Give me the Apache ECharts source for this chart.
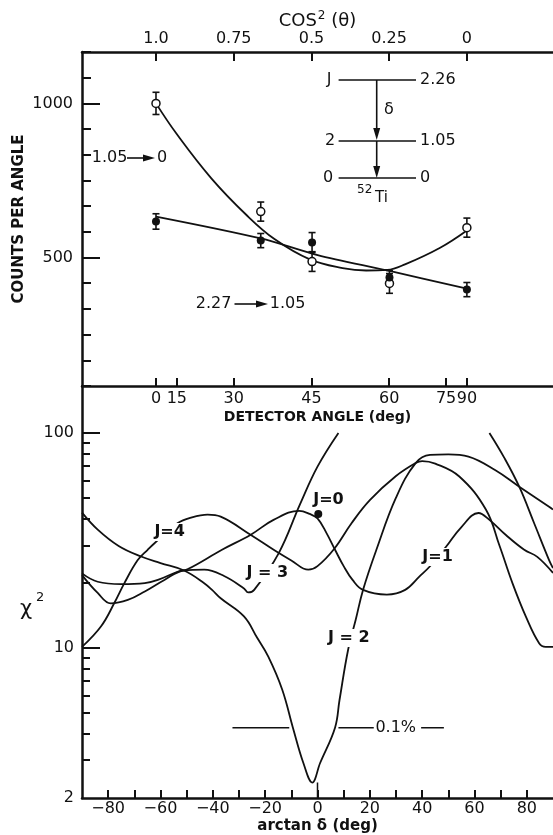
<!DOCTYPE html>
<html>
<head>
<meta charset="utf-8">
<script src="https://cdn.jsdelivr.net/npm/echarts@6/dist/echarts.min.js"></script>
<style>
  html, body { margin: 0; padding: 0; background: #fff; }
  #chart { width: 553px; height: 835px; }
</style>
</head>
<body>
<div id="chart"></div>
<script>
// ---- upper panel: angular distributions vs cos^2(theta) ----
var cos2Ticks = [1.0, 0.75, 0.5, 0.25, 0];
var detectorAngles = [0, 15, 30, 45, 60, 75, 90];
var countTicks = [500, 1000];

var pointCos2 = [1.0, 0.663, 0.498, 0.249, 0];
var groundCounts = [1000, 649, 487, 416, 597];   // 1.05 -> 0 (open)
var groundErr = [36, 31, 32, 32, 31];
var upperCounts = [617, 555, 549, 435, 396];     // 2.27 -> 1.05 (filled)
var upperErr = [25, 23, 32, 23, 23];

var groundFitCos2 = [1.0, 0.935, 0.822, 0.709, 0.619, 0.505, 0.40, 0.324, 0.256, 0.199, 0.086, 0];
var groundFitCounts = [1000, 903, 757, 638, 560, 494, 466, 458, 460, 478, 532, 588];
var upperFitCos2 = [1.0, 0.663, 0.48, 0.256, 0];
var upperFitCounts = [633, 562, 508, 458, 399];

// ---- lower panel: chi^2 vs arctan(delta) ----
var arctanTicks = [-80, -70, -60, -50, -40, -30, -20, -10, 0, 10, 20, 30, 40, 50, 60, 70, 80];
var arctanLabels = [-80, -60, -40, -20, 0, 20, 40, 60, 80];
var chiMinorTicks = [3, 4, 5, 6, 7, 8, 9, 20, 30, 40, 50, 60, 70, 80, 90];
var chiMajorTicks = [10, 100];
var chiLabels = [2, 10, 100];

var j1Deg = [-90, -84, -75, -66, -61, -53.5, -49.7, -36.5, -25.5, -16.8, -7, -3, 0, 3.5, 6.7, 10, 13.4, 17.4, 26.5, 33.5, 39, 42.9, 49.2, 55, 61.5, 65.7, 72, 79, 84, 90];
var j1Chi = [22.2, 20.3, 19.8, 20, 20.7, 22.6, 23.2, 28.6, 33.6, 39.4, 43.4, 42, 40, 34.1, 28.6, 24, 20.7, 18.6, 17.7, 18.6, 21.5, 23.9, 29.6, 36.5, 42.4, 39.4, 33.5, 28.6, 26.5, 22.3];

var j2Deg = [-90, -84, -76, -67.4, -60, -51, -43.3, -40.3, -37, -28.1, -23, -18.8, -13.5, -9.4, -5.4, -2, 1, 6.7, 8.4, 11.7, 14.6, 17.4, 22.5, 30, 37.5, 43, 50, 57.7, 68, 77.1, 88.5, 90];
var j2Chi = [42.6, 35.5, 29.8, 26.6, 24.8, 22.9, 20, 18.6, 17, 14, 11.1, 9.1, 6.4, 4.25, 2.91, 2.36, 2.91, 4.25, 5.7, 9.8, 13.5, 18.6, 28.6, 50, 72.4, 79, 79.5, 77.6, 67, 56.2, 45.4, 44];

var j3Deg = [-90, -84, -79, -72.5, -66, -58.5, -51, -43.3, -35.7, -28.1, -26.5, -24.2, -14.8, -6.7, 0, 8];
var j3Chi = [21.8, 18, 16.1, 16.7, 18.3, 20.7, 22.9, 23.1, 21.6, 18.9, 18.1, 18.6, 27.6, 46.5, 69.7, 100];
var j3WrapDeg = [65.7, 71.4, 77.1, 82.8, 88.5, 90];
var j3WrapChi = [100, 76.6, 56.2, 38, 25.6, 23.5];

var j4Deg = [-90, -82.7, -77.6, -73.8, -68.7, -64.9, -62.4, -53.5, -48, -42, -37, -25.6, -16, -10, -3.5, 0, 6.5, 13, 20, 30, 37.5, 40, 45, 54.2, 64.4, 69.5, 74.5, 79.6, 84.7, 87.2, 90];
var j4Chi = [10.1, 12.6, 16.2, 20, 25.6, 28.6, 30.6, 38, 40.5, 41.7, 40.8, 33.6, 28.2, 25.5, 23.1, 24, 29, 38, 48.7, 63, 72.4, 74, 72, 62.7, 43.9, 30, 20, 14, 10.5, 10.1, 10.1];

var j0Point = [0.3, 42];
var limitChi = 4.25;   // 0.1% level
var limitSegments = [[-32.5, -10.8], [8, 21.5], [39.6, 48.3]];
var limitTextDeg = 29.9;

var jLabelText = ['J=4', 'J=0', 'J = 3', 'J = 2', 'J=1'];
var jLabelDeg = [-56.5, 4.2, -19.2, 12.0, 45.9];
var jLabelChi = [34.6, 48.8, 22.3, 11.1, 26.5];

var BLACK = '#111';
var FONT = 'DejaVu Sans';

function pairs(xs, ys) { return xs.map(function (x, i) { return [x, ys[i]]; }); }
function cos2(deg) { var c = Math.cos(deg * Math.PI / 180); return c * c; }
var angleCos2 = detectorAngles.map(cos2);

var axisLine = { show: true, onZero: false, lineStyle: { color: BLACK, width: 2.5 } };
var tickStyle = { color: BLACK, width: 2 };
var curveStyle = { color: BLACK, width: 1.8 };

function errorBars(xs, ys, es) {
  return xs.map(function (x, i) { return [x, ys[i] - es[i], ys[i] + es[i]]; });
}
function renderErr(params, api) {
  var top = api.coord([api.value(0), api.value(2)]);
  var bot = api.coord([api.value(0), api.value(1)]);
  var w = 3.5, s = { stroke: BLACK, lineWidth: 1.6 };
  return { type: 'group', children: [
    { type: 'line', shape: { x1: top[0], y1: top[1], x2: bot[0], y2: bot[1] }, style: s },
    { type: 'line', shape: { x1: top[0] - w, y1: top[1], x2: top[0] + w, y2: top[1] }, style: s },
    { type: 'line', shape: { x1: bot[0] - w, y1: bot[1], x2: bot[0] + w, y2: bot[1] }, style: s }
  ] };
}

function curve(name, xs, ys) {
  return {
    name: name, type: 'line', xAxisIndex: 2, yAxisIndex: 2,
    data: pairs(xs, ys), smooth: 0.4,
    showSymbol: false, lineStyle: curveStyle, z: 2
  };
}

var limitData = [];
limitSegments.forEach(function (seg, i) {
  if (i > 0) limitData.push([seg[0] - 1, '-']);
  limitData.push([seg[0], limitChi], [seg[1], limitChi]);
});

// small text + arrow helpers for annotations
function txt(x, y, s, opts) {
  opts = opts || {};
  return { type: 'text', x: x, y: y, z: 10, style: {
    text: s, fill: BLACK, font: (opts.weight || 'normal') + ' ' + (opts.size || 16) + 'px "' + FONT + '"',
    align: opts.align || 'left', verticalAlign: 'middle' } };
}
function hline(x1, x2, y) {
  return { type: 'line', z: 10, shape: { x1: x1, y1: y, x2: x2, y2: y }, style: { stroke: BLACK, lineWidth: 1.6 } };
}
function vline(x, y1, y2) {
  return { type: 'line', z: 10, shape: { x1: x, y1: y1, x2: x, y2: y2 }, style: { stroke: BLACK, lineWidth: 1.6 } };
}
function headRight(x, y) {
  return { type: 'polygon', z: 10, shape: { points: [[x - 12, y - 3.5], [x - 12, y + 3.5], [x, y]] }, style: { fill: BLACK } };
}
function headDown(x, y) {
  return { type: 'polygon', z: 10, shape: { points: [[x - 3.5, y - 12], [x + 3.5, y - 12], [x, y]] }, style: { fill: BLACK } };
}

var chart = echarts.init(document.getElementById('chart'));

chart.setOption({
  animation: false,
  backgroundColor: '#fff',
  textStyle: { fontFamily: FONT, color: BLACK },
  grid: [
    { left: 82, top: 52, width: 472, height: 334 },
    { left: 82, top: 386, width: 472, height: 412 }
  ],
  xAxis: [
    {
      gridIndex: 0, type: 'value', position: 'top', min: -0.277, max: 1.238, inverse: true,
      axisLine: axisLine, splitLine: { show: false },
      axisTick: { show: true, inside: true, length: 9, customValues: cos2Ticks, lineStyle: tickStyle },
      axisLabel: { customValues: cos2Ticks, color: BLACK, fontSize: 16, margin: 5,
        formatter: function (v) { return v === 1 ? '1.0' : String(v); } },
      name: '{t|COS}{s|2}{t| (θ)}', nameLocation: 'middle', nameGap: 22,
      nameTextStyle: { rich: {
        t: { fontSize: 18, color: BLACK, fontFamily: FONT, verticalAlign: 'bottom' },
        s: { fontSize: 12, color: BLACK, fontFamily: FONT, verticalAlign: 'bottom', padding: [0, 0, 8, 1] } } }
    },
    {
      gridIndex: 0, type: 'value', position: 'bottom', min: -0.277, max: 1.238, inverse: true,
      axisLine: axisLine, splitLine: { show: false },
      axisTick: { show: true, inside: true, length: 8, customValues: angleCos2, lineStyle: tickStyle },
      axisLabel: { customValues: angleCos2, color: BLACK, fontSize: 16, margin: 5,
        formatter: function (v) {
          for (var i = 0; i < angleCos2.length; i++) if (Math.abs(angleCos2[i] - v) < 1e-6) return String(detectorAngles[i]);
          return '';
        } },
      name: 'DETECTOR ANGLE (deg)', nameLocation: 'middle', nameGap: 24,
      nameTextStyle: { fontSize: 14, fontWeight: 'bold', color: BLACK }
    },
    {
      gridIndex: 1, type: 'value', position: 'bottom', min: -90, max: 90,
      axisLine: axisLine, splitLine: { show: false },
      axisTick: { show: true, inside: true, length: 8, customValues: arctanTicks, lineStyle: tickStyle },
      axisLabel: { customValues: arctanLabels, color: BLACK, fontSize: 16, margin: 3,
        formatter: function (v) { return v < 0 ? '\u2212' + (-v) : String(v); } },
      name: 'arctan δ (deg)', nameLocation: 'middle', nameGap: 21,
      nameTextStyle: { fontSize: 15, fontWeight: 'bold', color: BLACK }
    }
  ],
  yAxis: [
    {
      gridIndex: 0, type: 'value', position: 'left', min: 1000 / 12, max: 14000 / 12, interval: 1000 / 12,
      axisLine: axisLine, splitLine: { show: false }, axisLabel: { show: false },
      axisTick: { show: true, inside: true, length: 9, lineStyle: tickStyle },
      name: 'COUNTS PER ANGLE', nameLocation: 'middle', nameGap: 55,
      nameTextStyle: { fontSize: 15, fontWeight: 'bold', color: BLACK }
    },
    {
      gridIndex: 0, type: 'value', position: 'left', min: 1000 / 12, max: 14000 / 12,
      axisLine: { show: false, onZero: false }, splitLine: { show: false },
      axisTick: { show: true, inside: true, length: 18, customValues: countTicks, lineStyle: tickStyle },
      axisLabel: { customValues: countTicks, color: BLACK, fontSize: 16, margin: 9,
        formatter: function (v) { return String(Math.round(v)); } }
    },
    {
      gridIndex: 1, type: 'log', logBase: 10, position: 'left', min: 2, max: 165.4,
      axisLine: axisLine, splitLine: { show: false }, minorTick: { show: false }, axisLabel: { show: false },
      axisTick: { show: true, inside: true, length: 8, customValues: chiMinorTicks, lineStyle: tickStyle }
    },
    {
      gridIndex: 1, type: 'log', logBase: 10, position: 'left', min: 2, max: 165.4,
      axisLine: { show: false, onZero: false }, splitLine: { show: false }, minorTick: { show: false },
      axisTick: { show: true, inside: true, length: 18, customValues: chiMajorTicks, lineStyle: tickStyle },
      axisLabel: { customValues: chiLabels, color: BLACK, fontSize: 16, margin: 8,
        formatter: function (v) { return String(Math.round(v)); } }
    }
  ],
  series: [
    // upper panel
    { name: '1.05->0 fit', type: 'line', xAxisIndex: 0, yAxisIndex: 0, data: pairs(groundFitCos2, groundFitCounts),
      smooth: 0.4, showSymbol: false, lineStyle: curveStyle, z: 2 },
    { name: '2.27->1.05 fit', type: 'line', xAxisIndex: 0, yAxisIndex: 0, data: pairs(upperFitCos2, upperFitCounts),
      smooth: 0.3, showSymbol: false, lineStyle: curveStyle, z: 2 },
    { type: 'custom', xAxisIndex: 0, yAxisIndex: 0, renderItem: renderErr, encode: { x: 0, y: [1, 2] },
      data: errorBars(pointCos2, groundCounts, groundErr), z: 3 },
    { type: 'custom', xAxisIndex: 0, yAxisIndex: 0, renderItem: renderErr, encode: { x: 0, y: [1, 2] },
      data: errorBars(pointCos2, upperCounts, upperErr), z: 3 },
    { name: '1.05->0', type: 'scatter', xAxisIndex: 0, yAxisIndex: 0, data: pairs(pointCos2, groundCounts),
      symbol: 'circle', symbolSize: 8, itemStyle: { color: '#fff', borderColor: BLACK, borderWidth: 1.5, opacity: 1 }, z: 4 },
    { name: '2.27->1.05', type: 'scatter', xAxisIndex: 0, yAxisIndex: 0, data: pairs(pointCos2, upperCounts),
      symbol: 'circle', symbolSize: 8, itemStyle: { color: BLACK, opacity: 1 }, z: 4 },

    // lower panel
    curve('J=1', j1Deg, j1Chi),
    curve('J=2', j2Deg, j2Chi),
    curve('J=3', j3Deg, j3Chi),
    curve('J=3', j3WrapDeg, j3WrapChi),
    curve('J=4', j4Deg, j4Chi),
    { name: 'J=0', type: 'scatter', xAxisIndex: 2, yAxisIndex: 2, data: [j0Point],
      symbolSize: 8, itemStyle: { color: BLACK, opacity: 1 }, z: 4 },
    { name: 'best', type: 'line', xAxisIndex: 2, yAxisIndex: 2, data: [[0, 2], [0, 2.36]],
      showSymbol: false, lineStyle: { color: BLACK, width: 1.5 }, z: 2 },
    { name: '0.1%', type: 'line', xAxisIndex: 2, yAxisIndex: 2, data: limitData, connectNulls: false,
      showSymbol: false, lineStyle: { color: BLACK, width: 1.5 }, z: 2 },
    { type: 'scatter', xAxisIndex: 2, yAxisIndex: 2, data: [[limitTextDeg, limitChi]], symbolSize: 0, z: 6,
      itemStyle: { opacity: 1 },
      label: { show: true, position: 'inside', formatter: '0.1%', color: BLACK, fontSize: 16, fontFamily: FONT } },
    { type: 'scatter', xAxisIndex: 2, yAxisIndex: 2, symbolSize: 0, z: 6, itemStyle: { opacity: 1 },
      data: jLabelDeg.map(function (d, i) { return { value: [d, jLabelChi[i]], name: jLabelText[i] }; }),
      label: { show: true, position: 'inside', formatter: '{b}', color: BLACK, fontSize: 16, fontWeight: 'bold',
        fontFamily: FONT, backgroundColor: '#fff', padding: [1, 2] } }
  ],
  graphic: [
    // upper-left transition labels
    txt(91.7, 158, '1.05'), hline(127, 146, 158), headRight(155, 158), txt(157, 158, '0'),
    txt(195.7, 304, '2.27'), hline(234.5, 257, 304), headRight(268, 304), txt(269.8, 304, '1.05'),
    // level scheme
    txt(329, 80, 'J', { align: 'center' }), hline(338.6, 416, 80), txt(420, 80, '2.26'),
    vline(376.7, 80, 130), headDown(376.7, 140), txt(384, 110, 'δ'),
    txt(330, 141, '2', { align: 'center' }), hline(338.6, 416, 141), txt(420, 141, '1.05'),
    vline(376.7, 141, 168), headDown(376.7, 178),
    txt(328, 178, '0', { align: 'center' }), hline(338.6, 416, 178), txt(420, 178, '0'),
    txt(357, 190, '52', { size: 12 }), txt(375, 198, 'Ti', { size: 15 }),
    // chi^2 axis label
    txt(26, 610, 'χ', { size: 21, align: 'center' }), txt(36, 598, '2', { size: 13 })
  ]
});
</script>
</body>
</html>
